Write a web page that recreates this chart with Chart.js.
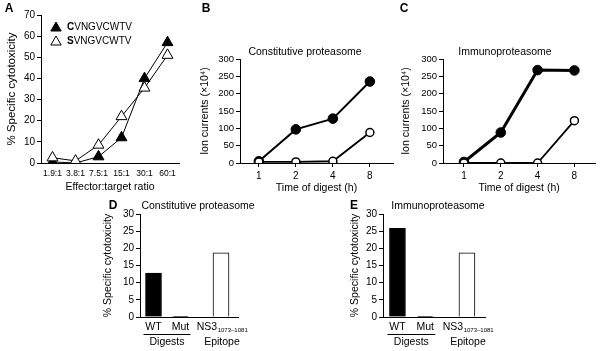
<!DOCTYPE html>
<html>
<head>
<meta charset="utf-8">
<script src="https://cdn.jsdelivr.net/npm/chart.js@4.4.0/dist/chart.umd.min.js"></script>
<style>
  body { margin: 0; background: #fff; }
  #wrap { position: relative; width: 601px; height: 351px; }
  canvas { position: absolute; left: 0; top: 0; }
</style>
</head>
<body>
<div id="wrap">
  <canvas id="panelA" width="601" height="351"></canvas>
  <canvas id="panelB" width="601" height="351"></canvas>
  <canvas id="panelC" width="601" height="351"></canvas>
  <canvas id="panelD" width="601" height="351"></canvas>
  <canvas id="panelE" width="601" height="351"></canvas>
</div>
<script>
// A: cytotoxicity vs effector:target ratio
const ratios = ['1.9:1', '3.8:1', '7.5:1', '15:1', '30:1', '60:1'];
const cytoCys = [0.5, 0, 3, 12, 40, 57];
const cytoSer = [2.5, 1, 8.5, 22, 35.5, 51];

// B, C: ion currents over digest time
const digestHours = ['1', '2', '4', '8'];
const constFilled = [5, 97, 128, 235];
const constOpen = [3, 3, 5, 88];
const immunoFilled = [3, 88, 268, 267];
const immunoOpen = [0, 0, 0, 122];

// D, E: cytotoxicity of digests and epitope
const barLabels = ['WT', 'Mut', 'NS3'];
const constBars = [12.8, 0.2, 18.7];
const immunoBars = [25.8, 0.2, 18.7];

const FONT = '"Liberation Sans", Arial, Helvetica, sans-serif';
const W = 601, H = 351;
const barSlots = [1, 2, 3.5];

// work out padding so the plot area lands at fixed page coords
function frame(area, yTitleX, yTitleSize, xTitleY, xTitleSize) {
  const ylh = yTitleSize * 1.2;
  const padLeft = yTitleX - ylh / 2;
  const bottomEdge = xTitleY != null ? xTitleY + xTitleSize * 0.6 : area.b + 4;
  return {
    padding: { left: padLeft, top: area.t, right: W - area.r, bottom: H - bottomEdge },
    yWidth: area.l - padLeft,
    xHeight: bottomEdge - area.b
  };
}

function yAxis(fr, max, step, tickSize, title, titleSize) {
  return {
    min: 0, max: max,
    ticks: { stepSize: step, color: '#000', font: { family: FONT, size: tickSize }, padding: 2 },
    grid: { drawOnChartArea: false, tickLength: 4, color: '#000' },
    border: { color: '#000', width: 1 },
    title: { display: true, text: title, color: '#000', padding: 0,
             font: { family: FONT, size: titleSize, lineHeight: 1.2 } },
    afterFit: s => { s.width = fr.yWidth; }
  };
}

function txt(ctx, s, x, y, size, opts = {}) {
  ctx.save();
  ctx.fillStyle = '#000';
  ctx.font = (opts.bold ? 'bold ' : '') + size + 'px ' + FONT;
  ctx.textAlign = opts.align || 'center';
  ctx.textBaseline = 'middle';
  ctx.fillText(s, x, y);
  ctx.restore();
}

function tri(ctx, x, y, r, fill) {
  ctx.save();
  ctx.beginPath();
  ctx.moveTo(x, y - r);
  ctx.lineTo(x + r * 0.866, y + r * 0.5);
  ctx.lineTo(x - r * 0.866, y + r * 0.5);
  ctx.closePath();
  ctx.fillStyle = fill;
  ctx.fill();
  ctx.strokeStyle = '#000';
  ctx.lineWidth = 1;
  ctx.stroke();
  ctx.restore();
}

// ---------- A ----------
const frA = frame({ l: 41, r: 179, t: 15, b: 163 }, 12, 11.5, 187, 10.5);
new Chart(document.getElementById('panelA'), {
  type: 'line',
  data: {
    labels: ratios,
    datasets: [
      { data: cytoSer, borderColor: '#000', borderWidth: 1, pointStyle: 'triangle', pointRadius: 6.3,
        pointBackgroundColor: '#fff', pointBorderColor: '#000', pointBorderWidth: 1, order: 0 },
      { data: cytoCys, borderColor: '#000', borderWidth: 1, pointStyle: 'triangle', pointRadius: 6.3,
        pointBackgroundColor: '#000', pointBorderColor: '#000', pointBorderWidth: 1, order: 1 }
    ]
  },
  options: {
    responsive: false, animation: false,
    layout: { padding: frA.padding },
    plugins: { legend: { display: false }, tooltip: { enabled: false } },
    scales: {
      x: {
        offset: true,
        ticks: { color: '#000', font: { family: FONT, size: 8.5 }, padding: 6, maxRotation: 0, autoSkip: false },
        grid: { display: false, drawTicks: false },
        border: { color: '#000', width: 1 },
        title: { display: true, text: 'Effector:target ratio', color: '#000', padding: 0,
                 font: { family: FONT, size: 10.5, lineHeight: 1.2 } },
        afterFit: s => { s.height = frA.xHeight; }
      },
      y: yAxis(frA, 70, 10, 10, '% Specific cytotoxicity', 11.5)
    }
  },
  plugins: [{
    id: 'annotA',
    afterDraw(chart) {
      const ctx = chart.ctx;
      txt(ctx, 'A', 9, 9, 12, { bold: true });
      tri(ctx, 56, 28, 6, '#000');
      tri(ctx, 56, 42, 6, '#fff');
      [['C', 27], ['S', 41]].forEach(([first, y]) => {
        ctx.save();
        ctx.font = 'bold 10px ' + FONT;
        const w = ctx.measureText(first).width;
        ctx.restore();
        txt(ctx, first, 67, y, 10, { bold: true, align: 'left' });
        txt(ctx, 'VNGVCWTV', 67 + w, y, 10, { align: 'left' });
      });
    }
  }]
});

// ---------- B, C ----------
function digestChart(id, letter, title, filled, open, area, yTitleX, titleX, thick, letterX, xmin) {
  const fr = frame(area, yTitleX, 10.5, 188, 10.5);
  // category slots ~37px apart
  const xmax = xmin + (area.r - area.l) / 37;
  new Chart(document.getElementById(id), {
    type: 'line',
    data: {
      datasets: [
        { data: open.map((v, i) => ({ x: i, y: v })), borderColor: '#000', borderWidth: 1.8,
          pointRadius: 4, pointBackgroundColor: '#fff', pointBorderColor: '#000', pointBorderWidth: 1.5, order: 0 },
        { data: filled.map((v, i) => ({ x: i, y: v })), borderColor: '#000', borderWidth: thick,
          pointRadius: 4.8, pointBackgroundColor: '#000', pointBorderColor: '#000', pointBorderWidth: 1, order: 1 }
      ]
    },
    options: {
      responsive: false, animation: false,
      layout: { padding: fr.padding },
      plugins: { legend: { display: false }, tooltip: { enabled: false } },
      scales: {
        x: {
          type: 'linear', min: xmin, max: xmax,
          afterBuildTicks: s => { s.ticks = digestHours.map((_, i) => ({ value: i })); },
          ticks: { color: '#000', font: { family: FONT, size: 10 }, padding: 3, maxRotation: 0,
                   callback: v => digestHours[v] },
          grid: { drawOnChartArea: false, tickLength: 4, color: '#000' },
          border: { color: '#000', width: 1 },
          title: { display: true, text: 'Time of digest (h)', color: '#000', padding: 0,
                   font: { family: FONT, size: 10.5, lineHeight: 1.2 } },
          afterFit: s => { s.height = fr.xHeight; }
        },
        y: yAxis(fr, 300, 50, 9.5, 'Ion currents (×10⁴)', 10.5)
      }
    },
    plugins: [{
      id: 'annot' + letter,
      afterDraw(chart) {
        txt(chart.ctx, letter, letterX, 9, 12, { bold: true });
        txt(chart.ctx, title, titleX, 52, 10.5);
      }
    }]
  });
}

digestChart('panelB', 'B', 'Constitutive proteasome', constFilled, constOpen,
  { l: 240, r: 393, t: 59, b: 163 }, 205, 305, 2, 206, -0.51);
digestChart('panelC', 'C', 'Immunoproteasome', immunoFilled, immunoOpen,
  { l: 443, r: 596, t: 59, b: 163 }, 406, 505, 3, 404, -0.57);

// ---------- D, E ----------
function barChart(id, letter, title, values, area, yTitleX, titleX, letterX, xmin, xmax) {
  const fr = frame(area, yTitleX, 10.5, null, 0);
  new Chart(document.getElementById(id), {
    type: 'bar',
    data: {
      datasets: [{
        data: values.map((v, i) => ({ x: barSlots[i], y: v })),
        backgroundColor: ['#000', '#000', '#fff'],
        borderColor: '#000', borderWidth: 1, barThickness: 16
      }]
    },
    options: {
      responsive: false, animation: false,
      layout: { padding: fr.padding },
      plugins: { legend: { display: false }, tooltip: { enabled: false } },
      scales: {
        x: {
          type: 'linear', min: xmin, max: xmax, offset: false,
          ticks: { display: false },
          grid: { display: false, drawTicks: false },
          border: { color: '#000', width: 1 },
          afterFit: s => { s.height = fr.xHeight; }
        },
        y: yAxis(fr, 30, 5, 10, '% Specific cytotoxicity', 10.5)
      }
    },
    plugins: [{
      id: 'annot' + letter,
      afterDraw(chart) {
        const ctx = chart.ctx;
        const xs = chart.scales.x;
        const px = barSlots.map(s => xs.getPixelForValue(s));
        txt(ctx, letter, letterX, 205.5, 12, { bold: true });
        txt(ctx, title, titleX, 206, 10.5);
        txt(ctx, barLabels[0], px[0], 327, 10.5);
        txt(ctx, barLabels[1], px[1], 327, 10.5);
        // NS3 with subscript
        ctx.save();
        ctx.font = '10.5px ' + FONT;
        const wMain = ctx.measureText(barLabels[2]).width;
        ctx.font = '6px ' + FONT;
        const sub = '1073–1081';
        const wSub = ctx.measureText(sub).width;
        ctx.restore();
        const x0 = px[2] + 1 - (wMain + wSub) / 2;
        txt(ctx, barLabels[2], x0, 327, 10.5, { align: 'left' });
        txt(ctx, sub, x0 + wMain + 0.5, 330.5, 6, { align: 'left' });
        // group underline and group names
        ctx.save();
        ctx.strokeStyle = '#000';
        ctx.lineWidth = 1;
        ctx.beginPath();
        ctx.moveTo(px[0] - 10, 334.5);
        ctx.lineTo(px[1] + 10, 334.5);
        ctx.stroke();
        ctx.restore();
        txt(ctx, 'Digests', (px[0] + px[1]) / 2, 342, 10.5);
        txt(ctx, 'Epitope', px[2] + 1, 342, 10.5);
      }
    }]
  });
}

barChart('panelD', 'D', 'Constitutive proteasome', constBars,
  { l: 140, r: 238, t: 214, b: 317 }, 108, 198, 113, 0.5, 4.13);
barChart('panelE', 'E', 'Immunoproteasome', immunoBars,
  { l: 383, r: 485, t: 214, b: 317 }, 355, 438, 354, 0.48, 4.15);
</script>
</body>
</html>
